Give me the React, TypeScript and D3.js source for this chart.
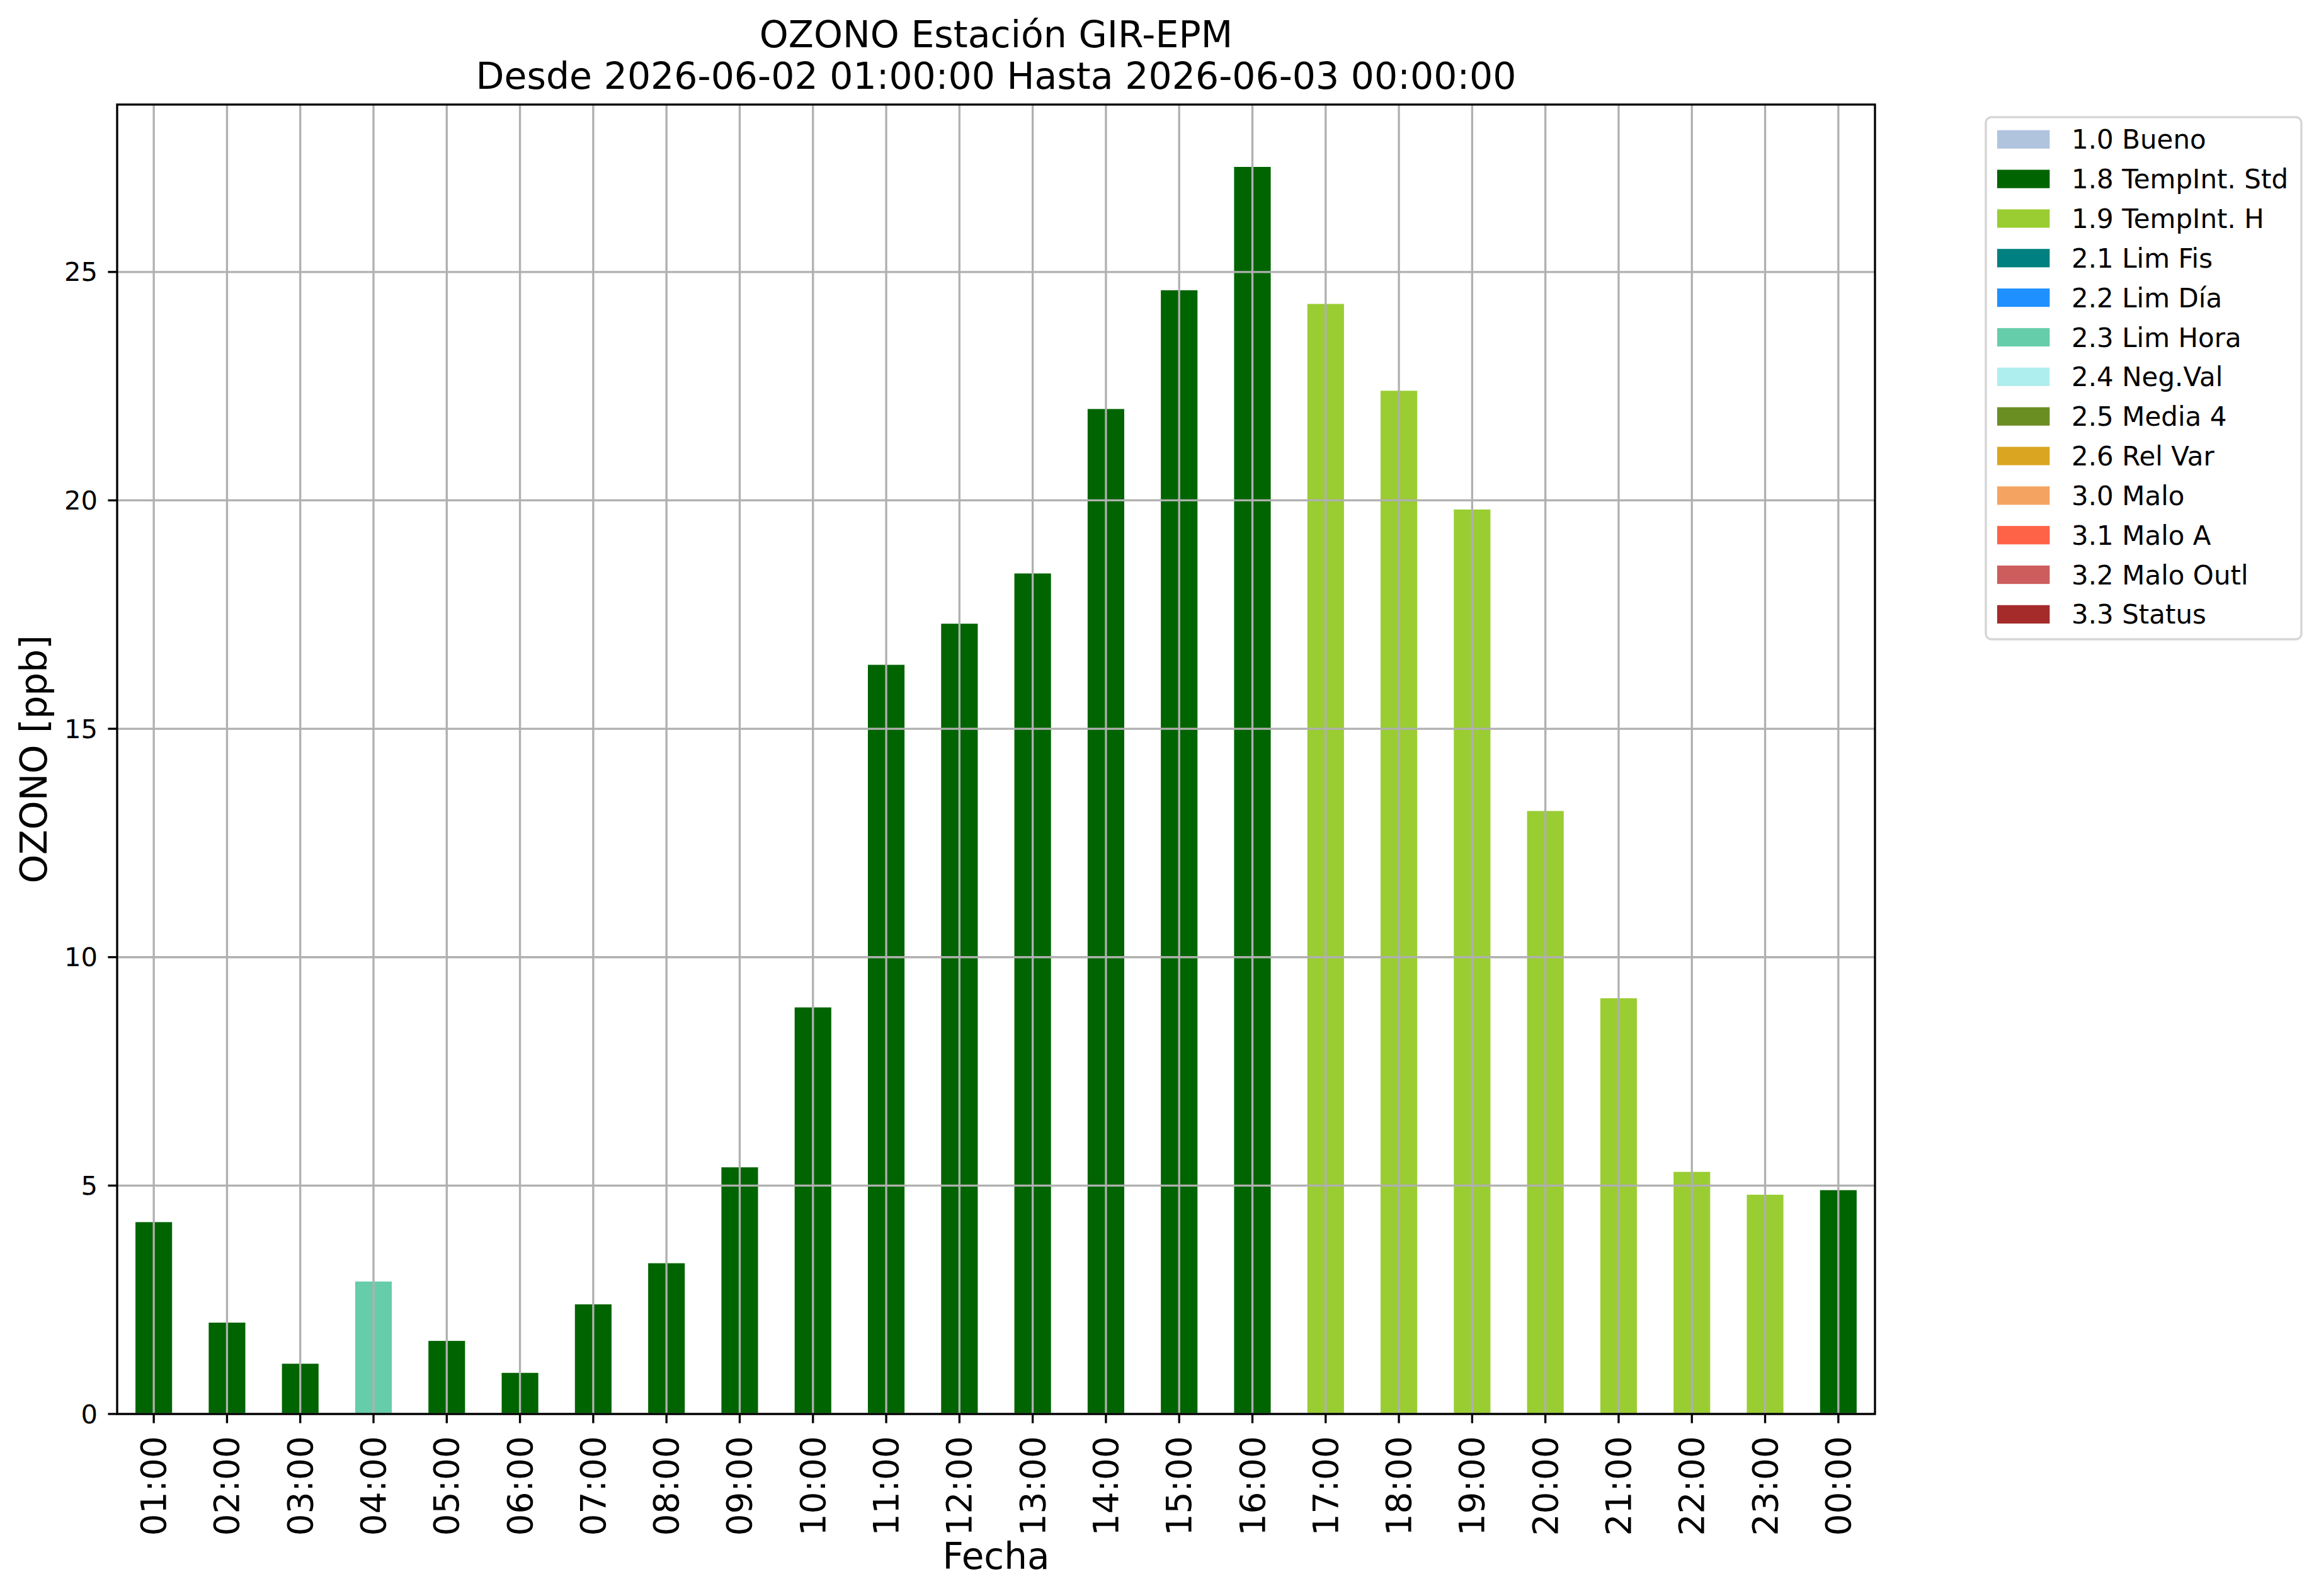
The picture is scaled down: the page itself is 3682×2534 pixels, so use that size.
import * as d3 from "d3";

// hourly ozone values and their quality flag
const hours = [
  "01:00", "02:00", "03:00", "04:00", "05:00", "06:00", "07:00", "08:00",
  "09:00", "10:00", "11:00", "12:00", "13:00", "14:00", "15:00", "16:00",
  "17:00", "18:00", "19:00", "20:00", "21:00", "22:00", "23:00", "00:00",
];
const values = [
  4.2, 2.0, 1.1, 2.9, 1.6, 0.9, 2.4, 3.3, 5.4, 8.9, 16.4, 17.3,
  18.4, 22.0, 24.6, 27.3, 24.3, 22.4, 19.8, 13.2, 9.1, 5.3, 4.8, 4.9,
];
const flags = [
  "1.8", "1.8", "1.8", "2.3", "1.8", "1.8", "1.8", "1.8", "1.8", "1.8", "1.8", "1.8",
  "1.8", "1.8", "1.8", "1.8", "1.9", "1.9", "1.9", "1.9", "1.9", "1.9", "1.9", "1.8",
];

const flagCodes = ["1.0", "1.8", "1.9", "2.1", "2.2", "2.3", "2.4", "2.5", "2.6", "3.0", "3.1", "3.2", "3.3"];
const flagNames = [
  "Bueno", "TempInt. Std", "TempInt. H", "Lim Fis", "Lim Día", "Lim Hora", "Neg.Val",
  "Media 4", "Rel Var", "Malo", "Malo A", "Malo Outl", "Status",
];
const flagColors = [
  "#b0c4de", "#006400", "#9acd32", "#008080", "#1e90ff", "#66cdaa", "#afeeee",
  "#6b8e23", "#daa520", "#f4a460", "#ff6347", "#cd5c5c", "#a52a2a",
];
const yTicks = [0, 5, 10, 15, 20, 25];

const W = 3682;
const H = 2534;
const plot = { left: 186, right: 2977, top: 166, bottom: 2245 };
const FONT = "DejaVu Sans, sans-serif";
const LW = 3.33;
const GRID = "#b0b0b0";

export default function App() {
  const x = d3
    .scaleBand<string>()
    .domain(hours)
    .range([plot.left, plot.right])
    .paddingInner(0.5)
    .paddingOuter(0.25);

  const y = d3
    .scaleLinear()
    .domain([0, (d3.max(values) || 0) * 1.05])
    .range([plot.bottom, plot.top]);

  const colorOf = d3.scaleOrdinal<string, string>().domain(flagCodes).range(flagColors);

  const cx = (h: string) => (x(h) || 0) + x.bandwidth() / 2;
  const midX = (plot.left + plot.right) / 2;
  const midY = (plot.top + plot.bottom) / 2;

  // legend layout
  const lg = { left: 3153, top: 186, right: 3654, bottom: 1015, first: 221.3, step: 62.84 };

  return (
    <svg
      width={W}
      height={H}
      viewBox={`0 0 ${W} ${H}`}
      style={{ position: "absolute", left: 0, top: 0, background: "#fff" }}
      fontFamily={FONT}
    >
      <rect width={W} height={H} fill="#fff" />

      {/* bars */}
      {hours.map((h, i) => (
        <rect
          key={h}
          x={x(h)}
          y={y(values[i])}
          width={x.bandwidth()}
          height={y(0) - y(values[i])}
          fill={colorOf(flags[i])}
        />
      ))}

      {/* grid above the bars, like matplotlib */}
      {hours.map((h) => (
        <line key={"gx" + h} x1={cx(h)} x2={cx(h)} y1={plot.top} y2={plot.bottom} stroke={GRID} strokeWidth={LW} />
      ))}
      {yTicks.map((t) => (
        <line key={"gy" + t} x1={plot.left} x2={plot.right} y1={y(t)} y2={y(t)} stroke={GRID} strokeWidth={LW} />
      ))}

      {/* spines */}
      <rect
        x={plot.left}
        y={plot.top}
        width={plot.right - plot.left}
        height={plot.bottom - plot.top}
        fill="none"
        stroke="#000"
        strokeWidth={LW}
      />

      {/* y ticks */}
      {yTicks.map((t) => (
        <g key={"yt" + t}>
          <line x1={plot.left - 14.6} x2={plot.left} y1={y(t)} y2={y(t)} stroke="#000" strokeWidth={LW} />
          <text
            x={plot.left - 31}
            y={y(t)}
            textAnchor="end"
            dominantBaseline="central"
            fontSize={41.7}
          >
            {t}
          </text>
        </g>
      ))}

      {/* x ticks */}
      {hours.map((h) => (
        <g key={"xt" + h}>
          <line x1={cx(h)} x2={cx(h)} y1={plot.bottom} y2={plot.bottom + 14.6} stroke="#000" strokeWidth={LW} />
          <text
            transform={`translate(${cx(h)},${plot.bottom + 35}) rotate(-90)`}
            textAnchor="end"
            dominantBaseline="central"
            fontSize={55}
          >
            {h}
          </text>
        </g>
      ))}

      {/* axis labels */}
      <text x={midX} y={2491} textAnchor="middle" fontSize={58}>
        Fecha
      </text>
      <text transform={`translate(74,${midY}) rotate(-90)`} textAnchor="middle" fontSize={58}>
        OZONO [ppb]
      </text>

      {/* title */}
      <text x={midX} y={74.5} textAnchor="middle" fontSize={58.5}>
        OZONO Estación GIR-EPM
      </text>
      <text x={midX} y={141} textAnchor="middle" fontSize={58.5}>
        Desde 2026-06-02 01:00:00 Hasta 2026-06-03 00:00:00
      </text>

      {/* legend */}
      <rect
        x={lg.left}
        y={lg.top}
        width={lg.right - lg.left}
        height={lg.bottom - lg.top}
        rx={9}
        fill="#fff"
        stroke="#d6d6d6"
        strokeWidth={3.5}
      />
      {flagCodes.map((c, i) => {
        const yc = lg.first + i * lg.step;
        return (
          <g key={"lg" + c}>
            <rect x={3171} y={yc - 14.6} width={83.4} height={29.2} fill={flagColors[i]} />
            <text x={3289} y={yc + 15} fontSize={42}>
              {c} {flagNames[i]}
            </text>
          </g>
        );
      })}
    </svg>
  );
}
